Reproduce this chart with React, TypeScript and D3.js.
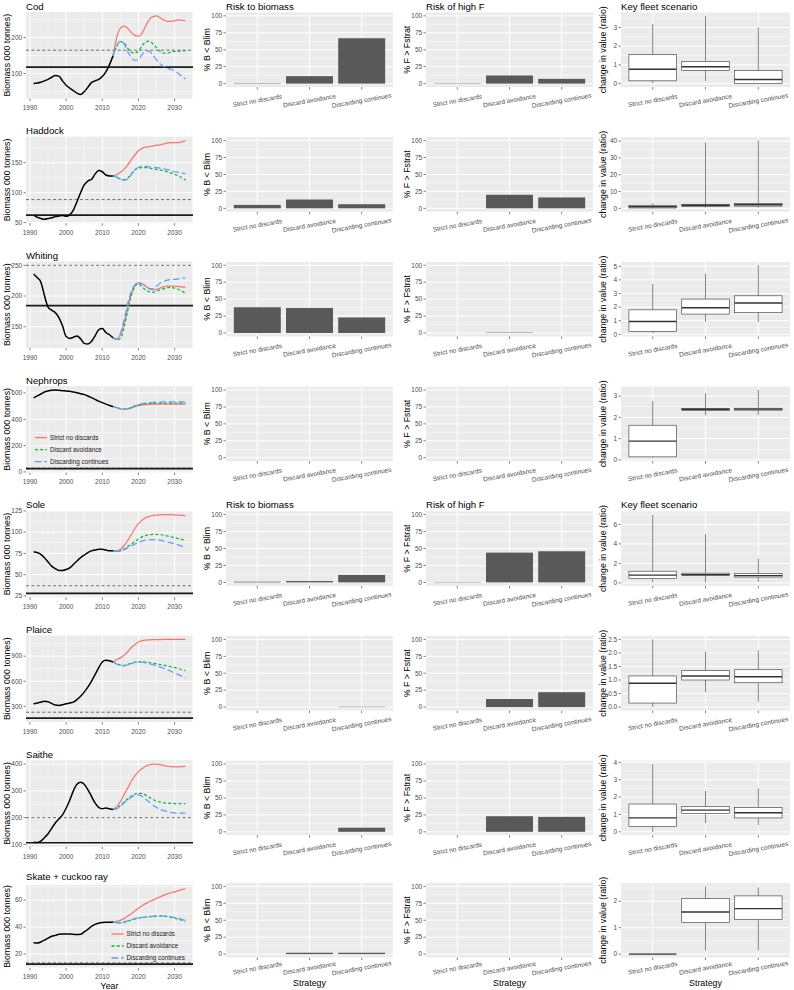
import React from 'react';
import * as d3 from 'd3';

const FONT = "'Liberation Sans', Arial, Helvetica, sans-serif";
const PANEL_BG = '#EBEBEB';

const stocks = ['Cod', 'Haddock', 'Whiting', 'Nephrops', 'Sole', 'Plaice', 'Saithe', 'Skate + cuckoo ray'];
const strategies = ['Strict no discards', 'Discard avoidance', 'Discarding continues'];
const seriesColors = ['#F8766D', '#00BA38', '#619CFF'];
const seriesDash = ['', '3,2.2', '6.5,3'];

const histYears = [1991, 1992, 1993, 1994, 1995, 1996, 1997, 1998, 1999, 2000, 2001, 2002, 2003, 2004, 2005, 2006, 2007, 2008, 2009, 2010, 2011, 2012, 2013];
const projYears = [2013, 2014, 2015, 2016, 2017, 2018, 2019, 2020, 2021, 2022, 2023, 2024, 2025, 2026, 2027, 2028, 2029, 2030, 2031, 2032, 2033];
const yearTicks = [1990, 2000, 2010, 2020, 2030];

// Historical biomass (black)
const codHist = [73, 74, 76, 80, 84, 90, 95, 93, 80, 68, 60, 53, 46, 42, 50, 62, 75, 80, 84, 92, 105, 125, 150];
const haddockHist = [62, 59, 57, 55.6, 57, 58, 60, 61, 62, 60.5, 63, 71, 85, 100, 113, 119.5, 122, 131, 137, 135, 129.5, 128, 128];
const whitingHist = [236, 230, 223, 201, 182, 177, 173, 165, 151.5, 134, 131, 133, 135, 130.5, 123, 122, 126, 135, 145, 147, 140.6, 137, 132];
const nephropsHist = [562, 577, 592, 607, 615, 620, 622, 620, 617, 615, 612, 607, 602, 594, 587, 577, 564, 551, 538, 526, 515, 505, 497];
const soleHist = [77, 76, 74, 70, 65, 60, 57, 55, 55, 56, 58, 62, 66, 70, 73, 76, 78, 79, 80, 80, 79, 78, 78];
const plaiceHist = [330, 340, 350, 360, 355, 335, 315, 310, 320, 330, 340, 350, 380, 420, 470, 530, 600, 680, 760, 830, 850, 845, 830];
const saitheHist = [108, 107, 112, 125, 140, 160, 180, 195, 210, 235, 265, 300, 325, 332, 325, 305, 280, 255, 238, 233, 236, 233, 230];
const skateHist = [28.5, 28.2, 29, 30.3, 31.9, 33.2, 33.9, 34.7, 34.9, 34.9, 34.9, 34.7, 34.5, 34.7, 36.4, 38.3, 40.5, 42, 42.9, 43.4, 43.6, 43.6, 43.8];

// Projections: Strict no discards
const codStrict = [150, 200, 226, 232, 226, 215, 206, 204, 212, 232, 250, 258, 260, 255, 249, 245, 245, 247, 249, 248, 247];
const haddockStrict = [128, 130, 134, 139, 146, 155, 163, 170, 174, 176, 177, 178, 179, 180, 181.5, 183, 183.5, 183.5, 183.5, 185, 187];
const whitingStrict = [132, 130, 137, 155, 180, 203, 217, 222, 220, 216, 212, 210, 211, 213, 215, 216, 216, 216, 215.5, 215, 214];
const nephropsStrict = [497, 488, 480, 476, 478, 486, 496, 503, 508, 511, 513, 514, 515, 515, 515, 515, 515, 515, 515, 515, 515];
const soleStrict = [78, 78, 80, 84, 90, 97, 104, 110, 114, 117, 118.5, 119.5, 120, 120.3, 120.5, 120.5, 120.5, 120.3, 120, 119.8, 119.5];
const plaiceStrict = [830, 860, 880, 910, 950, 1000, 1040, 1070, 1085, 1092, 1095, 1097, 1098, 1099, 1100, 1100, 1100, 1100, 1100, 1100, 1100];
const saitheStrict = [232, 240, 260, 285, 310, 335, 355, 372, 383, 392, 397, 400, 400, 398, 395, 392, 391, 390, 390, 391, 392];
const skateStrict = [43.8, 44.2, 45, 46.3, 48, 50, 52, 54, 55.8, 57.4, 58.8, 60, 61.2, 62.5, 63.7, 64.7, 65.5, 66.2, 67, 67.8, 68.5];

// Projections: Discard avoidance
const codAvoid = [150, 176, 189, 186, 171, 160, 157, 163, 177, 188, 190, 183, 172, 162, 157, 157, 160, 162, 162, 163, 163];
const haddockAvoid = [128, 126, 123, 122, 124, 131, 138, 141, 142, 142, 141, 140, 139, 138, 137, 135, 133, 131, 128, 125, 121];
const whitingAvoid = [132, 129, 131, 148, 175, 200, 215, 220, 215, 210, 207, 206, 208, 210, 212, 213.5, 214, 213, 211, 208, 205];
const nephropsAvoid = [497, 488, 480, 476, 479, 488, 499, 508, 514, 518, 520, 521, 522, 522, 522, 522, 522, 522, 522, 522, 522];
const soleAvoid = [78, 77.5, 78, 80, 83, 86, 89, 92, 94.5, 96, 97, 97.3, 97.3, 97, 96.5, 95.5, 94.5, 93.5, 92.5, 91.5, 90.5];
const plaiceAvoid = [830, 810, 795, 790, 800, 815, 828, 833, 832, 828, 822, 815, 808, 800, 792, 783, 773, 763, 752, 740, 725];
const saitheAvoid = [232, 235, 245, 258, 270, 280, 288, 292, 290, 284, 276, 268, 262, 258, 255, 254, 253, 252, 252, 252, 252];
const skateAvoid = [43.8, 43.3, 43.2, 43.6, 44.4, 45.3, 46.1, 46.7, 47.1, 47.4, 47.7, 47.9, 48.1, 48.2, 48.1, 47.8, 47.3, 46.7, 46, 45.1, 44.2];

// Projections: Discarding continues
const codCont = [150, 178, 190, 183, 162, 145, 137, 139, 153, 163, 162, 152, 138, 127, 120, 115, 112, 108, 101, 93, 85];
const haddockCont = [128, 126, 122, 121, 122.5, 130, 138, 142, 144, 144, 143, 142.5, 142, 141, 140, 138.5, 137, 135, 134, 133, 132];
const whitingCont = [132, 130, 139, 160, 187, 207, 218, 221, 220, 216, 212, 212, 216, 221, 224, 226, 227, 227, 228, 229, 229];
const nephropsCont = [497, 488, 480, 477, 480, 490, 502, 511, 518, 523, 526, 528, 530, 531, 532, 532, 533, 533, 533, 533, 533];
const soleCont = [78, 77.5, 78, 79.5, 81.5, 84, 86, 88, 89.5, 90.5, 91, 91.2, 91, 90.5, 89.5, 88.5, 87.5, 86.5, 85, 83.5, 82];
const plaiceCont = [830, 805, 790, 785, 795, 810, 825, 830, 828, 820, 810, 798, 785, 770, 755, 738, 720, 700, 680, 660, 640];
const saitheCont = [232, 233, 242, 255, 266, 276, 283, 285, 280, 270, 258, 247, 238, 231, 226, 223, 220, 218, 217, 217, 217];
const skateCont = [43.8, 43.3, 43.2, 43.7, 44.6, 45.6, 46.4, 46.9, 47.2, 47.4, 47.7, 48, 48.3, 48.4, 48.3, 48, 47.6, 47.1, 46.5, 45.8, 45];

const histSeries = [codHist, haddockHist, whitingHist, nephropsHist, soleHist, plaiceHist, saitheHist, skateHist];
const strictSeries = [codStrict, haddockStrict, whitingStrict, nephropsStrict, soleStrict, plaiceStrict, saitheStrict, skateStrict];
const avoidSeries = [codAvoid, haddockAvoid, whitingAvoid, nephropsAvoid, soleAvoid, plaiceAvoid, saitheAvoid, skateAvoid];
const contSeries = [codCont, haddockCont, whitingCont, nephropsCont, soleCont, plaiceCont, saitheCont, skateCont];

const blimValues = [118, 62.5, 184.5, 25, 28, 160, 106, 12.5];
const bpaValues = [165, 88.5, 250, 29, 37, 230, 200, 13.5];
const biomassTicks = [[100, 200], [50, 100, 150], [150, 200, 250], [0, 200, 400, 600], [25, 50, 75, 100, 125], [300, 600, 900], [100, 200, 300, 400], [20, 40, 60]];

// % B < Blim (per stock, per strategy)
const riskBiomass = [[0.6, 11, 67], [5, 13, 6], [38, 37, 23], [0, 0, 0], [1, 2, 11], [0, 0, 0.5], [0, 0, 6], [0, 2, 2]];
// % F > Fstrat
const riskF = [[0.5, 12, 7], [0, 20, 16], [0, 0.6, 0], [0, 0, 0], [0.5, 44, 46], [0, 12, 22], [0, 23, 22], [0, 0, 0]];
const pctTicks = [0, 25, 50, 75, 100];

// Key fleet scenario: [min, q1, median, q3, max]
const codBox = [[0.02, 0.15, 0.77, 1.55, 3.18], [0.15, 0.7, 0.9, 1.18, 3.62], [0, 0, 0.22, 0.7, 3.02]];
const haddockBox = [[0, 0.2, 0.9, 1.8, 3], [0.3, 1.2, 1.8, 2.4, 39.2], [0.4, 1.3, 2.1, 2.8, 40.3]];
const whitingBox = [[0.1, 0.22, 0.95, 1.8, 3.7], [0.93, 1.49, 1.95, 2.59, 4.46], [0.9, 1.59, 2.3, 2.83, 5.07]];
const nephropsBox = [[0.1, 0.14, 0.88, 1.63, 2.77], [2.1, 2.33, 2.38, 2.42, 3.14], [2.12, 2.34, 2.39, 2.43, 3.29]];
const soleBox = [[0.05, 0.45, 0.8, 1.2, 7], [0.05, 0.75, 0.85, 1.0, 5], [0.1, 0.6, 0.75, 0.95, 2.5]];
const plaiceBox = [[0, 0.15, 0.88, 1.15, 2.5], [0.55, 1.0, 1.15, 1.35, 2.05], [0.2, 0.9, 1.12, 1.38, 2.1]];
const saitheBox = [[0, 0.3, 0.8, 1.6, 3.9], [0.5, 1.05, 1.25, 1.45, 2.35], [0.4, 0.8, 1.1, 1.4, 2.5]];
const skateBox = [[0, 0, 0, 0, 0], [0.13, 1.2, 1.59, 2.1, 2.56], [0.13, 1.31, 1.72, 2.2, 2.52]];
const boxSeries = [codBox, haddockBox, whitingBox, nephropsBox, soleBox, plaiceBox, saitheBox, skateBox];
const ratioTicks = [[0, 1, 2, 3], [0, 10, 20, 30, 40], [0, 1, 2, 3, 4, 5], [0, 1, 2, 3], [0, 2, 4, 6], [0, 0.5, 1, 1.5, 2, 2.5], [0, 1, 2, 3, 4], [0, 1, 2]];
const ratioTickDigits = [0, 0, 0, 0, 0, 1, 0, 0];

const ROW_H = 124.7;
const TICK_FS = 6.5;
const TITLE_FS = 9.6;
const AXIS_FS = 8.8;

function rowGeom(r: number) {
  const off = r * ROW_H;
  const last = r === 7;
  return {
    titleY: last ? 879.5 : off + 9.5,
    c1Top: off + 12,
    c1Bot: last ? 968 : off + 98.5,
    xLabOff: last ? 8.8 : 9.6,
    cTop: last ? 883 : off + 12.5,
    cBot: last ? 957.5 : off + 87,
    rotOff: last ? 10.5 : 13.5,
  };
}

function minors(ticks: number[], domain: number[]) {
  const out: number[] = [];
  if (ticks.length < 2) return out;
  const step = ticks[1] - ticks[0];
  const all = [ticks[0] - step / 2, ...ticks.slice(0, -1).map((t, i) => (t + ticks[i + 1]) / 2), ticks[ticks.length - 1] + step / 2];
  const lo = Math.min(domain[0], domain[1]);
  const hi = Math.max(domain[0], domain[1]);
  all.forEach((v) => { if (v >= lo && v <= hi) out.push(v); });
  return out;
}

function padExtent(vals: number[], frac = 0.05) {
  const [a, b] = d3.extent(vals) as [number, number];
  const p = (b - a) * frac;
  return [a - p, b + p];
}

function YAxisGrid({ y, ticks, pl, pr }: any) {
  const dom = y.domain();
  return (
    <g>
      {minors(ticks, dom).map((v, i) => (
        <line key={'m' + i} x1={pl} x2={pr} y1={y(v)} y2={y(v)} stroke="#fff" strokeWidth={0.5} />
      ))}
      {ticks.map((v: number, i: number) => (
        <line key={'M' + i} x1={pl} x2={pr} y1={y(v)} y2={y(v)} stroke="#fff" strokeWidth={1} />
      ))}
    </g>
  );
}

function YAxisLabels({ y, ticks, pl, fmt }: any) {
  return (
    <g>
      {ticks.map((v: number, i: number) => (
        <g key={i}>
          <line x1={pl - 2.5} x2={pl} y1={y(v)} y2={y(v)} stroke="#333" strokeWidth={0.6} />
          <text x={pl - 3.8} y={y(v)} dy="0.35em" textAnchor="end" fontSize={TICK_FS} fill="#4D4D4D">{fmt ? fmt(v) : String(v)}</text>
        </g>
      ))}
    </g>
  );
}

function Legend({ x0, yBase }: { x0: number; yBase: number }) {
  return (
    <g>
      {strategies.map((s, i) => {
        const yy = yBase + i * 12;
        return (
          <g key={i}>
            <line x1={x0} x2={x0 + 12} y1={yy} y2={yy} stroke={seriesColors[i]} strokeWidth={1.3} strokeDasharray={seriesDash[i] || undefined} />
            <text x={x0 + 15} y={yy} dy="0.35em" fontSize={6.3} fill="#1a1a1a">{s}</text>
          </g>
        );
      })}
    </g>
  );
}

function BiomassPanel({ r }: { r: number }) {
  const g = rowGeom(r);
  const pl = 26, pr = 193;
  const hist = histSeries[r];
  const proj = [strictSeries[r], avoidSeries[r], contSeries[r]];
  const x = d3.scaleLinear().domain(padExtent([...histYears, ...projYears])).range([pl, pr]);
  const y = d3.scaleLinear()
    .domain(padExtent([...hist, ...proj.flat(), blimValues[r], bpaValues[r]]))
    .range([g.c1Bot, g.c1Top]);
  const line = d3.line<[number, number]>().x((d) => x(d[0])).y((d) => y(d[1])).curve(d3.curveMonotoneX);
  const histPts = histYears.map((yr, i) => [yr, hist[i]] as [number, number]);
  const ticks = biomassTicks[r];
  const clipId = 'clipB' + r;
  return (
    <g>
      <defs>
        <clipPath id={clipId}><rect x={pl} y={g.c1Top} width={pr - pl} height={g.c1Bot - g.c1Top} /></clipPath>
      </defs>
      <rect x={pl} y={g.c1Top} width={pr - pl} height={g.c1Bot - g.c1Top} fill={PANEL_BG} />
      <g>
        {minors(yearTicks, x.domain()).map((v, i) => (
          <line key={'xm' + i} x1={x(v)} x2={x(v)} y1={g.c1Top} y2={g.c1Bot} stroke="#fff" strokeWidth={0.5} />
        ))}
        {yearTicks.map((v, i) => (
          <line key={'xM' + i} x1={x(v)} x2={x(v)} y1={g.c1Top} y2={g.c1Bot} stroke="#fff" strokeWidth={1} />
        ))}
      </g>
      <YAxisGrid y={y} ticks={ticks} pl={pl} pr={pr} />
      <g clipPath={`url(#${clipId})`}>
        <line x1={pl} x2={pr} y1={y(bpaValues[r])} y2={y(bpaValues[r])} stroke="#4d4d4d" strokeWidth={0.8} strokeDasharray="3,2.4" />
        <line x1={pl} x2={pr} y1={y(blimValues[r])} y2={y(blimValues[r])} stroke="#1a1a1a" strokeWidth={1.7} />
        <path d={line(histPts) || ''} fill="none" stroke="#000" strokeWidth={1.5} />
        {proj.map((s, k) => (
          <path key={k} d={line(projYears.map((yr, i) => [yr, s[i]] as [number, number])) || ''} fill="none"
            stroke={seriesColors[k]} strokeWidth={1.25} strokeDasharray={seriesDash[k] || undefined} />
        ))}
      </g>
      <YAxisLabels y={y} ticks={ticks} pl={pl} />
      {yearTicks.map((v, i) => (
        <g key={i}>
          <line x1={x(v)} x2={x(v)} y1={g.c1Bot} y2={g.c1Bot + 2.5} stroke="#333" strokeWidth={0.6} />
          <text x={x(v)} y={g.c1Bot + g.xLabOff} dy="0.35em" textAnchor="middle" fontSize={TICK_FS} fill="#4D4D4D">{v}</text>
        </g>
      ))}
      <text x={pl} y={g.titleY} fontSize={TITLE_FS} fill="#000">{stocks[r]}</text>
      <text transform={`translate(10.2,${(g.c1Top + g.c1Bot) / 2}) rotate(-90)`} textAnchor="middle" fontSize={AXIS_FS} fill="#000">Biomass 000 tonnes)</text>
      {r === 3 && <Legend x0={pl + 9} yBase={g.c1Bot - 35} />}
      {r === 7 && <Legend x0={pl + 85.5} yBase={g.c1Bot - 34} />}
      {r === 7 && <text x={(pl + pr) / 2} y={988.5} textAnchor="middle" fontSize={AXIS_FS} fill="#000">Year</text>}
    </g>
  );
}

function StrategyAxis({ x, bottom, off }: any) {
  return (
    <g>
      {strategies.map((s, i) => {
        const cx = (x(s) as number) + x.bandwidth() / 2;
        return (
          <g key={i}>
            <line x1={cx} x2={cx} y1={bottom} y2={bottom + 2.5} stroke="#333" strokeWidth={0.6} />
            <text transform={`translate(${cx},${bottom + off}) rotate(-10)`} dy="0.35em" textAnchor="middle" fontSize={TICK_FS} fill="#4D4D4D">{s}</text>
          </g>
        );
      })}
    </g>
  );
}

function BarPanel({ r, kind }: { r: number; kind: number }) {
  const g = rowGeom(r);
  const [pl, pr] = kind === 0 ? [226, 393] : [426, 593];
  const vals = kind === 0 ? riskBiomass[r] : riskF[r];
  const x = d3.scaleBand<string>().domain(strategies).range([pl, pr]).paddingInner(0.1).paddingOuter(0.15);
  const y = d3.scaleLinear().domain(padExtent([0, 100])).range([g.cBot, g.cTop]);
  const showTitle = r === 0 || r === 4;
  return (
    <g>
      <rect x={pl} y={g.cTop} width={pr - pl} height={g.cBot - g.cTop} fill={PANEL_BG} />
      <YAxisGrid y={y} ticks={pctTicks} pl={pl} pr={pr} />
      {strategies.map((s, i) => {
        const cx = (x(s) as number) + x.bandwidth() / 2;
        return <line key={i} x1={cx} x2={cx} y1={g.cTop} y2={g.cBot} stroke="#fff" strokeWidth={1} />;
      })}
      {strategies.map((s, i) => (
        vals[i] > 0 ? <rect key={i} x={x(s)} width={x.bandwidth()} y={y(vals[i])} height={y(0) - y(vals[i])} fill="#595959" /> : null
      ))}
      <YAxisLabels y={y} ticks={pctTicks} pl={pl} />
      <StrategyAxis x={x} bottom={g.cBot} off={g.rotOff} />
      {showTitle && <text x={pl} y={g.titleY} fontSize={TITLE_FS} fill="#000">{kind === 0 ? 'Risk to biomass' : 'Risk of high F'}</text>}
      <text transform={`translate(${kind === 0 ? 210.2 : 409.8},${(g.cTop + g.cBot) / 2}) rotate(-90)`} textAnchor="middle" fontSize={AXIS_FS} fill="#000">{kind === 0 ? '% B < Blim' : '% F > Fstrat'}</text>
      {r === 7 && <text x={(pl + pr) / 2} y={986} textAnchor="middle" fontSize={AXIS_FS} fill="#000">Strategy</text>}
    </g>
  );
}

function BoxPanel({ r }: { r: number }) {
  const g = rowGeom(r);
  const pl = 621, pr = 790;
  const stats = boxSeries[r];
  const x = d3.scaleBand<string>().domain(strategies).range([pl, pr]).paddingInner(0.1).paddingOuter(0.15);
  const y = d3.scaleLinear().domain(padExtent(stats.flat())).range([g.cBot, g.cTop]);
  const ticks = ratioTicks[r];
  const digits = ratioTickDigits[r];
  const fmt = (v: number) => v.toFixed(digits);
  const showTitle = r === 0 || r === 4;
  return (
    <g>
      <rect x={pl} y={g.cTop} width={pr - pl} height={g.cBot - g.cTop} fill={PANEL_BG} />
      <YAxisGrid y={y} ticks={ticks} pl={pl} pr={pr} />
      {strategies.map((s, i) => {
        const cx = (x(s) as number) + x.bandwidth() / 2;
        return <line key={i} x1={cx} x2={cx} y1={g.cTop} y2={g.cBot} stroke="#fff" strokeWidth={1} />;
      })}
      {strategies.map((s, i) => {
        const [mn, q1, md, q3, mx] = stats[i];
        const x0 = x(s) as number;
        const cx = x0 + x.bandwidth() / 2;
        return (
          <g key={i}>
            <line x1={cx} x2={cx} y1={y(mn)} y2={y(q1)} stroke="#333" strokeWidth={0.6} />
            <line x1={cx} x2={cx} y1={y(q3)} y2={y(mx)} stroke="#333" strokeWidth={0.6} />
            <rect x={x0} width={x.bandwidth()} y={y(q3)} height={Math.max(0, y(q1) - y(q3))} fill="#fff" stroke="#333" strokeWidth={0.6} />
            <line x1={x0} x2={x0 + x.bandwidth()} y1={y(md)} y2={y(md)} stroke="#333" strokeWidth={1.4} />
          </g>
        );
      })}
      <YAxisLabels y={y} ticks={ticks} pl={pl} fmt={fmt} />
      <StrategyAxis x={x} bottom={g.cBot} off={g.rotOff} />
      {showTitle && <text x={pl} y={g.titleY} fontSize={TITLE_FS} fill="#000">Key fleet scenario</text>}
      <text transform={`translate(605.8,${(g.cTop + g.cBot) / 2}) rotate(-90)`} textAnchor="middle" fontSize={AXIS_FS} fill="#000">change in value (ratio)</text>
      {r === 7 && <text x={(pl + pr) / 2} y={986} textAnchor="middle" fontSize={AXIS_FS} fill="#000">Strategy</text>}
    </g>
  );
}

export default function App() {
  return (
    <svg width={794} height={990} viewBox="0 0 794 990" fontFamily={FONT}
      style={{ position: 'absolute', left: 0, top: 0, display: 'block' }}>
      <rect x={0} y={0} width={794} height={990} fill="#fff" />
      {stocks.map((s, r) => (
        <g key={s}>
          <BiomassPanel r={r} />
          <BarPanel r={r} kind={0} />
          <BarPanel r={r} kind={1} />
          <BoxPanel r={r} />
        </g>
      ))}
    </svg>
  );
}
